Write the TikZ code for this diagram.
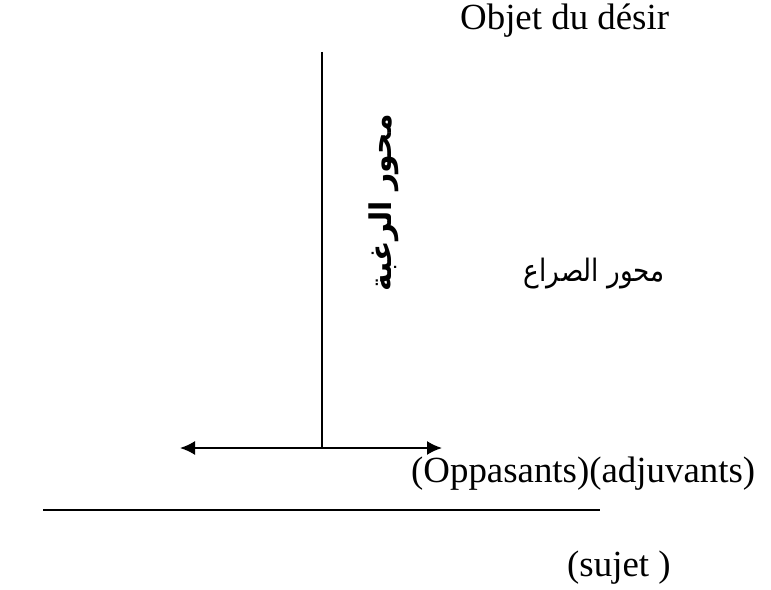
\documentclass[tikz,border=0pt]{standalone}
\usepackage{fontspec}
\setmainfont{Liberation Serif}
\newfontfamily\arabicfont[Script=Arabic]{DejaVu Sans}
\TeXXeTstate=1
\usepackage{tikz}
\usetikzlibrary{arrows.meta,positioning,calc}

\begin{document}
\begin{tikzpicture}[x=1bp,y=-1bp,
  latin/.style={font=\fontsize{37}{40}\selectfont,inner sep=0pt,anchor=base west},
  arab/.style={font=\arabicfont\fontsize{31}{34}\selectfont,inner sep=0pt},
  axis/.style={draw=black,line width=1.3bp},
  twoway/.style={{Latex[length=15bp,width=14bp]}-{Latex[length=15bp,width=14bp]},draw=black,line width=1.8bp}]

\path[use as bounding box] (0,0) rectangle (771,590);
\node[latin] (objet) at (460,30) {Objet du désir};
\coordinate (vtop) at (322,52);
\coordinate (vbot) at (322,448);
\coordinate (hleft) at (180,448);
\coordinate (hright) at (442,448);
\draw[axis] (vtop)--(vbot);
\draw[twoway] (hleft)--(hright);
\node[arab,font=\arabicfont\bfseries\fontsize{30}{34}\selectfont,rotate=90] (desir) at (384,203)
  {\beginR محور الرغبة\endR};
\node[arab,anchor=base east,xscale=.85] (conflit) at (665,281) {\beginR محور الصراع\endR};
\node[latin] (actants) at (411,482) {(Oppasants)(adjuvants)};
\coordinate (sleft) at (43,510);
\coordinate (sright) at (600,510);
\draw[axis] (sleft)--(sright);
\node[latin] (sujet) at (567,576) {(sujet )};

\end{tikzpicture}
\end{document}
